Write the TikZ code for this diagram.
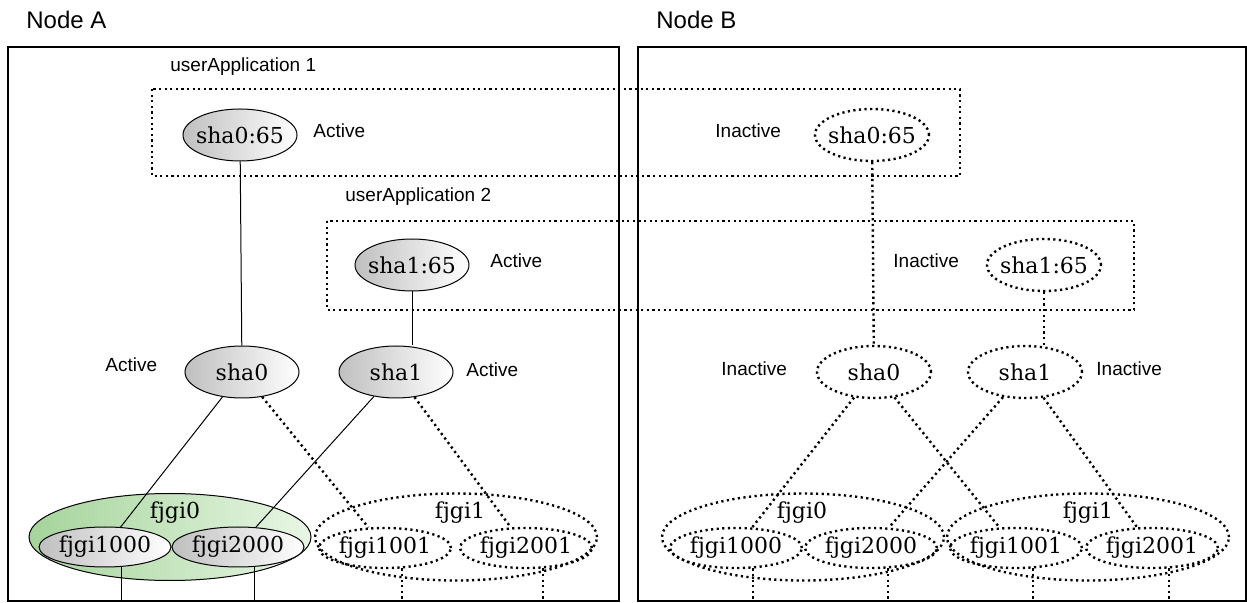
\documentclass[tikz,border=0pt]{standalone}
\usepackage{fontspec}
\newfontfamily\labelfont{Liberation Sans}
\newfontfamily\nodefont{DejaVu Serif}
\usetikzlibrary{shapes.geometric}
\definecolor{grpdark}{RGB}{165,212,155}
\definecolor{grplight}{RGB}{232,246,228}

\begin{document}
\begin{tikzpicture}[x=0.5pt,y=-0.5pt,
  ttl/.style={font=\labelfont\fontsize{12}{14}\selectfont, inner sep=0pt, anchor=west},
  lbl/.style={font=\labelfont\fontsize{9.5}{11}\selectfont, inner sep=0pt, anchor=west},
  dots/.style={line width=1.2pt, dash pattern=on 1.1pt off 1.7pt},
  ell/.style={ellipse, inner xsep=-4pt, inner ysep=0pt, font=\nodefont\fontsize{11}{13}\selectfont},
  act/.style={ell, draw, line width=0.5pt, left color=gray!50, right color=white},
  inact/.style={ell, draw, dots},
  sha/.style={minimum width=57pt, minimum height=26pt},
  port/.style={minimum width=66pt, minimum height=20pt},
  grp/.style={ellipse, minimum width=141pt, minimum height=43.5pt},
  txt/.style={font=\nodefont\fontsize{11}{13}\selectfont, inner sep=0pt},
  frame/.style={line width=0.7pt}
]
\useasboundingbox (0,0) rectangle (1247,603);
\coordinate (bot) at (0,601);

% node frames
\node[ttl] (ttlA) at (26,20) {Node A};
\node[ttl] (ttlB) at (656,20) {Node B};
\draw[frame] (8,47) rectangle (619,601);
\draw[frame] (638,47) rectangle (1246,601);

% userApplications
\node[lbl] (ua1) at (170,67) {userApplication 1};
\node[lbl] (ua2) at (345,197) {userApplication 2};
\draw[dots, line width=1pt] (152,89) rectangle (960,176);
\draw[dots, line width=1pt] (327,221) rectangle (1134,310);

% Node A
\node[act, sha] (s0pA) at (240,135) {sha0:65};
\node[lbl] (stA1) at (313,131) {Active};
\node[act, sha] (s1pA) at (412,265) {sha1:65};
\node[lbl] (stA2) at (490,261) {Active};
\node[act, sha] (s0A) at (242,372) {sha0};
\node[lbl] (stA3) at (105,365) {Active};
\node[act, sha] (s1A) at (396,372) {sha1};
\node[lbl] (stA4) at (466,370) {Active};

\node[grp, draw, line width=0.5pt, left color=grpdark, right color=grplight] (g0A) at (170,537) {};
\node[grp, draw, dots] (g1A) at (456,537) {};
\node[txt] (g0Alb) at (175,513) {fjgi0};
\node[txt] (g1Alb) at (460,513) {fjgi1};
\node[act, port] (p1000A) at (105,547) {fjgi1000};
\node[act, port] (p2000A) at (238,547) {fjgi2000};
\node[inact, port] (p1001A) at (385,548) {fjgi1001};
\node[inact, port] (p2001A) at (526,548) {fjgi2001};

% Node B
\node[inact, sha] (s0pB) at (872,135) {sha0:65};
\node[lbl] (stB1) at (715,131) {Inactive};
\node[inact, sha] (s1pB) at (1044,265) {sha1:65};
\node[lbl] (stB2) at (893,261) {Inactive};
\node[inact, sha] (s0B) at (874,372) {sha0};
\node[lbl] (stB3) at (721,369) {Inactive};
\node[inact, sha] (s1B) at (1025,372) {sha1};
\node[lbl] (stB4) at (1096,369) {Inactive};

\node[grp, draw, dots] (g0B) at (803,537) {};
\node[grp, draw, dots] (g1B) at (1088,537) {};
\node[txt] (g0Blb) at (802,513) {fjgi0};
\node[txt] (g1Blb) at (1088,513) {fjgi1};
\node[inact, port] (p1000B) at (736,548) {fjgi1000};
\node[inact, port] (p2000B) at (871,548) {fjgi2000};
\node[inact, port] (p1001B) at (1016,548) {fjgi1001};
\node[inact, port] (p2001B) at (1152,548) {fjgi2001};

% links A
\draw[line width=0.5pt] (s0pA) -- (s0A);
\draw[line width=0.5pt] (s1pA.south) -- (s1pA.south |- s1A.north);
\draw[line width=0.5pt] (s0A) -- (p1000A);
\draw[dots] (s0A) -- (p1001A);
\draw[line width=0.5pt] (s1A) -- (p2000A);
\draw[dots] (s1A) -- (p2001A);
\draw[line width=0.5pt] (p1000A.-50) -- (p1000A.-50 |- bot);
\draw[line width=0.5pt] (p2000A.-50) -- (p2000A.-50 |- bot);
\draw[dots] (p1001A.-50) -- (p1001A.-50 |- bot);
\draw[dots] (p2001A.-50) -- (p2001A.-50 |- bot);

% links B
\draw[dots] (s0pB) -- (s0B);
\draw[dots] (s1pB.south) -- (s1pB.south |- s1B.north);
\draw[dots] (s0B) -- (p1000B);
\draw[dots] (s0B) -- (p1001B);
\draw[dots] (s1B) -- (p2000B);
\draw[dots] (s1B) -- (p2001B);
\draw[dots] (p1000B.-50) -- (p1000B.-50 |- bot);
\draw[dots] (p2000B.-50) -- (p2000B.-50 |- bot);
\draw[dots] (p1001B.-50) -- (p1001B.-50 |- bot);
\draw[dots] (p2001B.-50) -- (p2001B.-50 |- bot);
\end{tikzpicture}
\end{document}
